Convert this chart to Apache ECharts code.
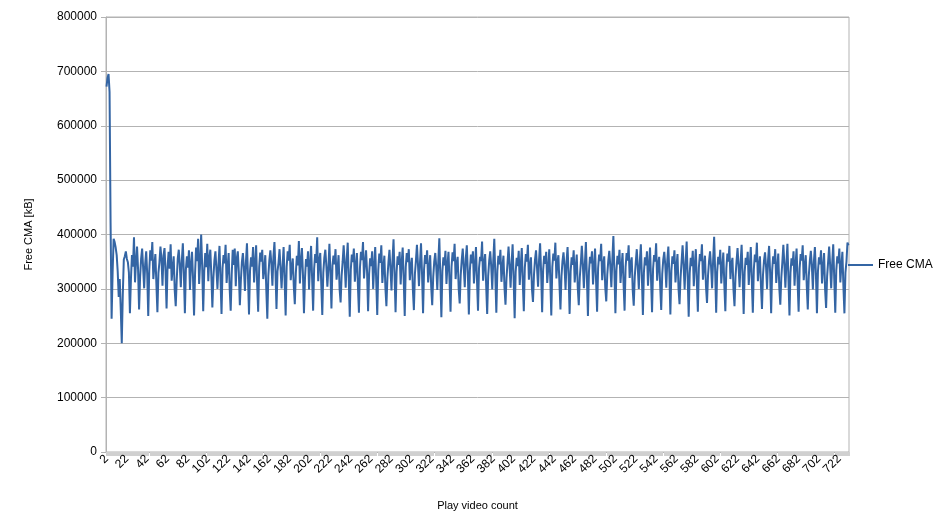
<!DOCTYPE html>
<html>
<head>
<meta charset="utf-8">
<script src="https://cdn.jsdelivr.net/npm/echarts@6/dist/echarts.min.js"></script>
<style>
html,body{margin:0;padding:0;background:#fff;}
#chart{width:944px;height:530px;}
</style>
</head>
<body>
<div id="chart"></div>
<script>
// Free CMA [kB] for each play count, starting at count 2
const freeCma = [
672000,688000,695000,662000,420000,245000,330000,392000,386000,376000,
362000,332000,285000,318000,262000,200000,290000,354000,360000,369000,
355000,349000,330000,255000,
318000,362000,341000,395000,312000,350000,378000,336000,262000,
322000,355000,374000,338000,301000,346000,369000,327000,250000,
334000,371000,352000,386000,318000,342000,364000,309000,257000,
329000,349000,378000,355000,306000,361000,375000,332000,264000,
341000,368000,337000,382000,315000,338000,360000,298000,268000,
317000,356000,372000,344000,303000,352000,384000,329000,255000,
336000,360000,339000,371000,298000,344000,368000,320000,251000,
328000,376000,351000,392000,309000,348000,400000,342000,259000,
331000,366000,340000,383000,314000,357000,372000,325000,266000,
320000,352000,369000,336000,300000,345000,379000,318000,254000,
338000,362000,347000,381000,311000,340000,366000,301000,260000,
326000,372000,344000,374000,305000,356000,369000,330000,270000,
315000,349000,366000,338000,296000,350000,384000,322000,253000,
333000,358000,341000,377000,312000,346000,380000,309000,258000,
339000,367000,350000,372000,318000,337000,362000,298000,245000,
324000,353000,371000,345000,306000,359000,386000,333000,263000,
332000,348000,373000,337000,301000,342000,377000,315000,251000,
340000,369000,352000,381000,316000,339000,356000,305000,272000,
328000,361000,343000,388000,310000,352000,375000,327000,255000,
319000,355000,341000,369000,299000,345000,379000,320000,260000,
337000,364000,348000,395000,314000,351000,366000,308000,252000,
330000,357000,372000,342000,304000,338000,383000,329000,264000,
343000,361000,345000,373000,317000,336000,362000,300000,275000,
324000,350000,380000,346000,302000,355000,385000,318000,249000,
335000,363000,349000,374000,313000,343000,366000,306000,256000,
338000,368000,353000,386000,319000,347000,371000,331000,259000,
327000,356000,342000,369000,300000,341000,377000,314000,252000,
334000,365000,348000,380000,311000,339000,361000,302000,268000,
321000,349000,372000,337000,297000,353000,391000,326000,257000,
331000,360000,344000,368000,308000,349000,376000,317000,250000,
340000,366000,349000,373000,316000,342000,357000,299000,261000,
327000,352000,381000,345000,305000,348000,384000,328000,255000,
336000,362000,346000,371000,312000,337000,362000,304000,270000,
322000,350000,366000,340000,298000,351000,393000,321000,248000,
333000,358000,343000,370000,309000,344000,368000,315000,258000,
341000,367000,351000,383000,318000,346000,359000,301000,273000,
325000,353000,374000,339000,303000,356000,380000,330000,253000,
334000,363000,347000,369000,310000,342000,377000,316000,260000,
338000,359000,351000,387000,315000,348000,364000,307000,254000,
324000,352000,369000,341000,299000,352000,392000,324000,256000,
333000,361000,345000,372000,313000,340000,361000,303000,271000,
320000,348000,378000,344000,302000,347000,382000,319000,246000,
331000,357000,342000,370000,307000,343000,375000,312000,259000,
339000,364000,350000,381000,317000,341000,358000,300000,276000,
326000,354000,371000,338000,304000,354000,384000,331000,257000,
335000,361000,346000,368000,311000,338000,373000,318000,251000,
340000,365000,352000,385000,319000,349000,362000,309000,262000,
323000,351000,367000,342000,298000,350000,377000,326000,254000,
332000,358000,344000,371000,312000,339000,363000,302000,270000,
321000,347000,379000,345000,301000,346000,386000,320000,250000,
331000,359000,347000,369000,308000,342000,374000,315000,258000,
338000,363000,351000,383000,316000,344000,360000,303000,277000,
326000,352000,370000,341000,303000,355000,397000,332000,255000,
334000,361000,345000,372000,311000,340000,366000,310000,260000,
340000,366000,352000,380000,320000,347000,358000,298000,269000,
322000,349000,373000,339000,300000,351000,382000,322000,252000,
330000,358000,343000,369000,306000,343000,376000,317000,257000,
337000,362000,350000,384000,315000,345000,359000,305000,261000,
327000,354000,368000,343000,302000,353000,378000,328000,253000,
333000,360000,346000,371000,312000,341000,364000,301000,272000,
320000,350000,380000,344000,299000,348000,387000,321000,249000,
329000,357000,342000,370000,305000,344000,373000,314000,258000,
339000,364000,351000,382000,317000,342000,361000,304000,274000,
325000,351000,369000,340000,301000,352000,396000,333000,256000,
332000,359000,345000,372000,310000,339000,367000,308000,259000,
338000,365000,350000,379000,318000,346000,357000,299000,268000,
323000,350000,375000,342000,303000,349000,381000,324000,254000,
331000,357000,344000,368000,307000,341000,377000,316000,256000,
336000,363000,349000,385000,314000,343000,360000,306000,263000,
326000,352000,367000,341000,300000,354000,379000,329000,255000,
334000,360000,346000,373000,311000,338000,365000,302000,271000,
321000,349000,381000,345000,302000,347000,383000,319000,251000,
330000,356000,343000,369000,306000,345000,374000,313000,258000,
338000,364000,352000,380000,316000,341000,362000,305000,262000,
324000,351000,370000,343000,299000,350000,377000,327000,255000,
332000,358000,345000,371000,310000,340000,366000,300000,265000,
323000,350000,378000,342000,301000,348000,382000,318000,256000,
334000,360000,347000,374000,312000,342000,368000,305000,255000,
330000,350000,385000,380000
];
const firstCount = 2;
const counts = freeCma.map((_, i) => String(firstCount + i));
const yTicks = { min: 0, max: 800000, step: 100000 };

const chart = echarts.init(document.getElementById('chart'), null, { renderer: 'canvas' });
const font = 'Liberation Sans, Arial, sans-serif';
chart.setOption({
  animation: false,
  backgroundColor: '#ffffff',
  textStyle: { fontFamily: font },
  grid: { left: 106, right: 95, top: 17, bottom: 78, show: true, borderColor: '#b3b3b3', borderWidth: 1, backgroundColor: 'transparent' },
  legend: {
    show: true, orient: 'vertical', left: 848, top: 259, padding: 0,
    icon: 'rect', itemWidth: 25, itemHeight: 2, itemGap: 5,
    textStyle: { color: '#000', fontSize: 12, fontFamily: font },
    data: ['Free CMA']
  },
  xAxis: {
    type: 'category', data: counts, boundaryGap: true,
    name: 'Play video count', nameLocation: 'middle', nameGap: 48,
    nameTextStyle: { color: '#000', fontSize: 11, fontFamily: font },
    axisLine: { lineStyle: { color: '#b3b3b3' } },
    axisTick: { show: true, interval: 0, length: 4, lineStyle: { color: '#d0d0d0' } },
    axisLabel: { interval: 19, rotate: 45, margin: 5, color: '#000', fontSize: 12, fontFamily: font },
    splitLine: { show: false }
  },
  yAxis: {
    type: 'value', min: yTicks.min, max: yTicks.max, interval: yTicks.step,
    name: 'Free CMA [kB]', nameLocation: 'middle', nameRotate: 90, nameGap: 72,
    nameTextStyle: { color: '#000', fontSize: 11, fontFamily: font },
    axisLine: { show: true, lineStyle: { color: '#b3b3b3' } },
    axisTick: { show: true, length: 5, lineStyle: { color: '#b3b3b3' } },
    axisLabel: { margin: 9, color: '#000', fontSize: 12, fontFamily: font, formatter: v => String(v) },
    splitLine: { show: true, lineStyle: { color: '#b3b3b3' } }
  },
  series: [{
    name: 'Free CMA', type: 'line', data: freeCma,
    symbol: 'none', showSymbol: false,
    lineStyle: { width: 2, color: '#3465a4' },
    itemStyle: { color: '#3465a4' }
  }]
});
</script>
</body>
</html>
